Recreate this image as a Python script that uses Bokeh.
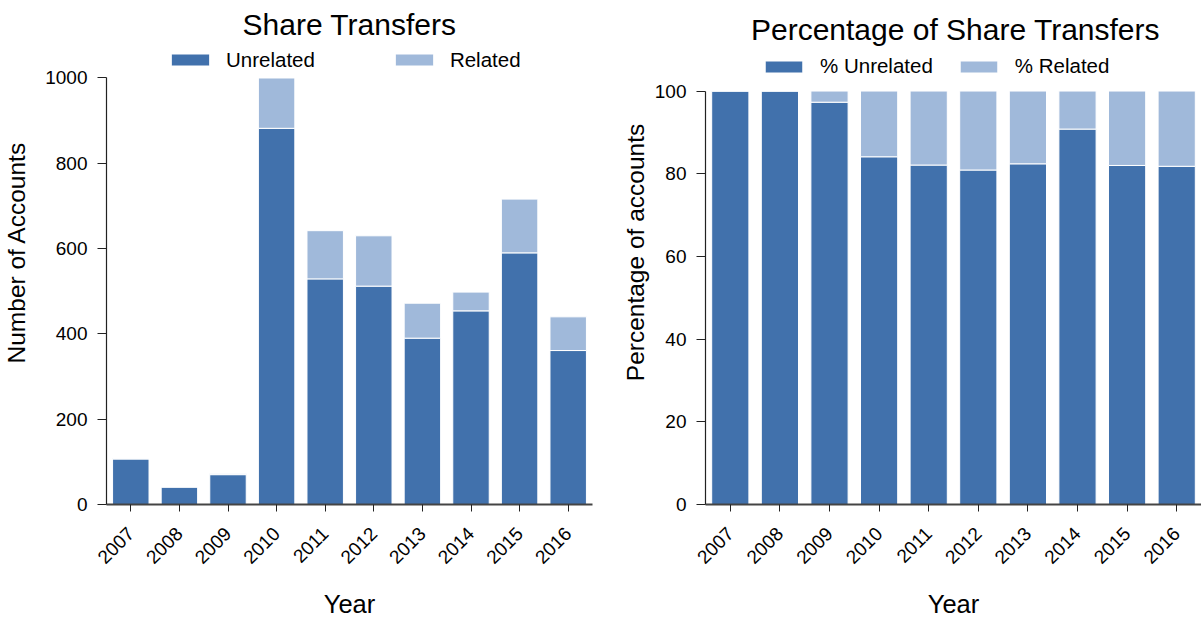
import math
from bokeh.plotting import figure
from bokeh.models import (ColumnDataSource, FactorRange, Range1d, FixedTicker,
                          Legend, LegendItem, Label)
from bokeh.layouts import row
from bokeh.embed import file_html
from bokeh.resources import INLINE

# ---- data ----
years = ["2007", "2008", "2009", "2010", "2011", "2012", "2013", "2014", "2015", "2016"]
unrelated = [107, 41, 70, 882, 529, 512, 390, 454, 590, 361]
related = [0, 0, 2, 118, 113, 118, 82, 44, 126, 79]
pct_unrelated = [100.0, 100.0, 97.3, 84.1, 82.1, 80.9, 82.4, 90.8, 82.0, 81.8]
pct_related = [0.0, 0.0, 2.7, 15.9, 17.9, 19.1, 17.6, 9.2, 18.0, 18.2]
count_ticks = [0, 200, 400, 600, 800, 1000]
pct_ticks = [0, 20, 40, 60, 80, 100]

DARK = "#4171AC"
LIGHT = "#A0B9DA"
FONT = "Liberation Sans"

H = 622
B_TOP = 0
B_BOTTOM = 118   # frame bottom at y = 504


def make_panel(width, b_left, b_right, y_top, y_axis_max, ticks,
               vals_a, vals_b, name_a, name_b, title, ylabel,
               title_x, title_y, leg_x, leg_y, glyph_w, standoff, spacing,
               ylabel_standoff):
    p = figure(width=width, height=H, x_range=FactorRange(*years),
               y_range=Range1d(0, y_top), output_backend="svg",
               toolbar_location=None, min_border_left=b_left,
               min_border_top=B_TOP, min_border_right=b_right,
               min_border_bottom=B_BOTTOM, title=None)
    p.outline_line_color = None
    p.grid.visible = False

    src = ColumnDataSource(dict(year=years, a=vals_a, b=vals_b))
    rs = p.vbar_stack(["a", "b"], x="year", width=0.75, source=src,
                      fill_color=[DARK, LIGHT], line_color="white", line_width=1)

    # y axis
    p.yaxis.ticker = FixedTicker(ticks=ticks)
    p.yaxis.bounds = (0, y_axis_max)
    p.yaxis.major_tick_out = 9
    p.yaxis.major_tick_in = 0
    p.yaxis.minor_tick_line_color = None
    p.yaxis.major_label_standoff = 10
    p.yaxis.axis_line_color = "#222222"
    p.yaxis.axis_line_width = 1.2
    p.yaxis.major_tick_line_color = "#222222"
    p.yaxis.axis_label = ylabel
    p.yaxis.axis_label_standoff = ylabel_standoff
    p.yaxis.axis_label_text_font_size = "24.5px"

    # x axis
    p.xaxis.major_tick_out = 7
    p.xaxis.major_tick_in = 0
    p.xaxis.major_label_orientation = math.pi / 4
    p.xaxis.major_label_standoff = 19
    p.xaxis.axis_line_color = "#444444"
    p.xaxis.axis_line_width = 2
    p.xaxis.major_tick_line_color = "#222222"
    p.xaxis.axis_label = "Year"
    p.xaxis.axis_label_standoff = 17
    p.xaxis.axis_label_text_font_size = "25.5px"

    for ax in (p.xaxis[0], p.yaxis[0]):
        ax.major_label_text_font = FONT
        ax.major_label_text_font_size = "19px"
        ax.major_label_text_color = "black"
        ax.axis_label_text_font = FONT
        ax.axis_label_text_font_style = "normal"
        ax.axis_label_text_color = "black"

    # title (inside the frame's empty top strip)
    p.add_layout(Label(x=title_x, y=title_y, x_units="screen", y_units="screen",
                       text=title, text_align="center", text_baseline="alphabetic",
                       text_font=FONT, text_font_size="30px", text_color="black"))

    # legend
    leg = Legend(items=[LegendItem(label=name_a, renderers=[rs[0]]),
                        LegendItem(label=name_b, renderers=[rs[1]])],
                 orientation="horizontal", location=(leg_x, leg_y),
                 border_line_color=None, background_fill_alpha=0,
                 padding=0, margin=0, spacing=spacing,
                 glyph_width=glyph_w, glyph_height=15,
                 label_standoff=standoff, label_text_font=FONT,
                 label_text_font_size="20.5px", label_text_color="black",
                 label_height=14)
    p.add_layout(leg, "center")
    return p


# left: 1000 -> y 77.5 ; right: 100 -> y 90.5 (frame bottom at 504)
p1 = make_panel(600, 106, 8, 1181.7, 1000, count_ticks,
                unrelated, related, "Unrelated", "Related",
                "Share Transfers", "Number of Accounts",
                243, 479.7, 60, 432.5, 48, 12, 75, 12)
p2 = make_panel(601, 105, 0, 121.9, 100, pct_ticks,
                pct_unrelated, pct_related, "% Unrelated", "% Related",
                "Percentage of Share Transfers", "Percentage of accounts",
                250, 475, 55, 426, 47, 13, 22, 3)

layout = row(p1, p2)
open("out.html", "w").write(file_html(layout, INLINE))
